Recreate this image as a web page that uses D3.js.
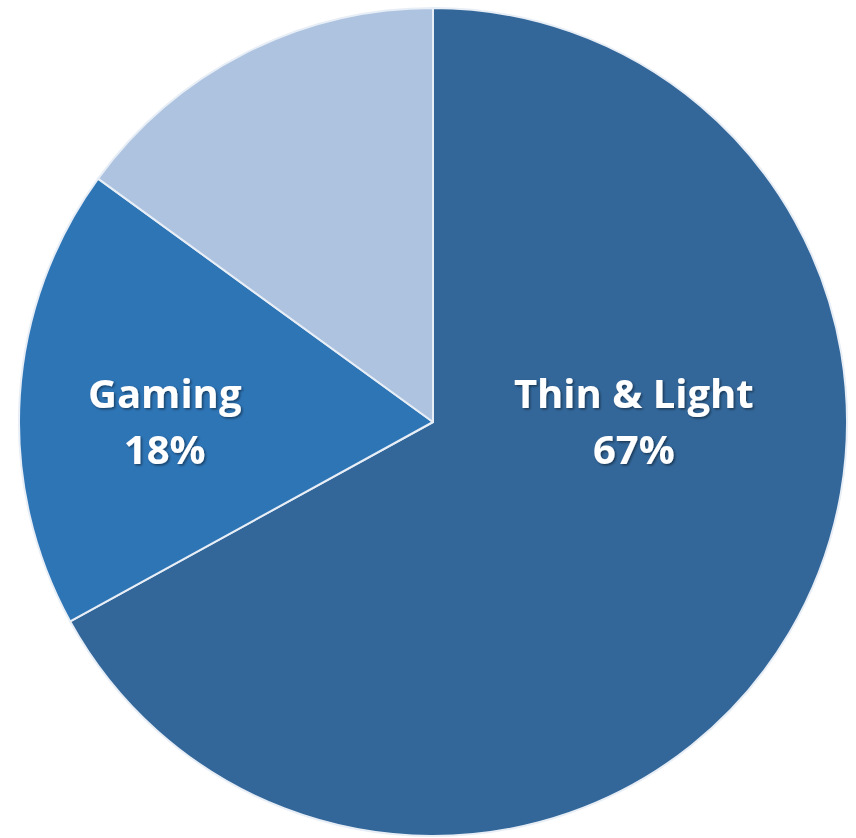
<!DOCTYPE html>
<html>
<head>
<meta charset="utf-8">
<script src="https://cdn.jsdelivr.net/npm/d3@7"></script>
<style>
    body { margin: 0; background: #fff; }
    .label { font-family: "Open Sans", sans-serif; font-weight: 700; font-size: 40px; fill: #fff; }
</style>
</head>
<body>
<svg id="pie_chart"></svg>
<script>
// chart data
let categories = ['Thin & Light', 'Gaming', 'Other']
let shares = [67, 18, 15]
let showLabel = [true, true, false]
let colors = ['#33679a', '#2e75b6', '#adc3e0']

let width = 856, height = 838
let pie_c = {x: 433, y: 422, r: 414}

// where each label sits: angle (deg, clockwise from top) and fraction of radius
let labelSpots = [{a: 90, f: 0.485}, {a: 270, f: 0.648}, {a: 0, f: 0}]

let svg = d3.select('#pie_chart')
    .attr('width', width)
    .attr('height', height)

let defs = svg.append('defs')
let shadow = defs.append('filter').attr('id', 'txtShadow')
    .attr('x', '-10%').attr('y', '-10%').attr('width', '120%').attr('height', '130%')
shadow.append('feDropShadow')
    .attr('dx', 1.5).attr('dy', 1.5).attr('stdDeviation', 1.2)
    .attr('flood-color', '#000').attr('flood-opacity', 0.45)

let data = categories.map((c, i) => ({name: c, value: shares[i], show: showLabel[i]}))

let pie = d3.pie().sort(null).value(d => d.value)
let arc = d3.arc().innerRadius(0).outerRadius(pie_c.r)
let colorScale = d3.scaleOrdinal(categories, colors)

let g = svg.append('g')
    .attr('transform', `translate(${pie_c.x}, ${pie_c.y})`)

g.selectAll('path')
        .data(pie(data))
    .enter().append('path')
        .attr('d', arc)
        .attr('fill', d => colorScale(d.data.name))
        .attr('stroke', '#e8eef6')
        .attr('stroke-width', 2)
        .attr('stroke-linejoin', 'round')

let labels = g.selectAll('text.label')
        .data(pie(data).filter(d => d.data.show))
    .enter().append('text')
        .attr('class', 'label')
        .attr('text-anchor', 'middle')
        .attr('filter', 'url(#txtShadow)')
        .attr('transform', function(d) {
            let s = labelSpots[d.index]
            let a = s.a * Math.PI / 180
            let rr = s.f * pie_c.r
            return `translate(${rr * Math.sin(a)}, ${-rr * Math.cos(a)})`
        })

labels.append('tspan')
    .attr('x', 0).attr('y', -14)
    .text(d => d.data.name)
labels.append('tspan')
    .attr('x', 0).attr('y', 42)
    .text(d => d.data.value + '%')
</script>
</body>
</html>
